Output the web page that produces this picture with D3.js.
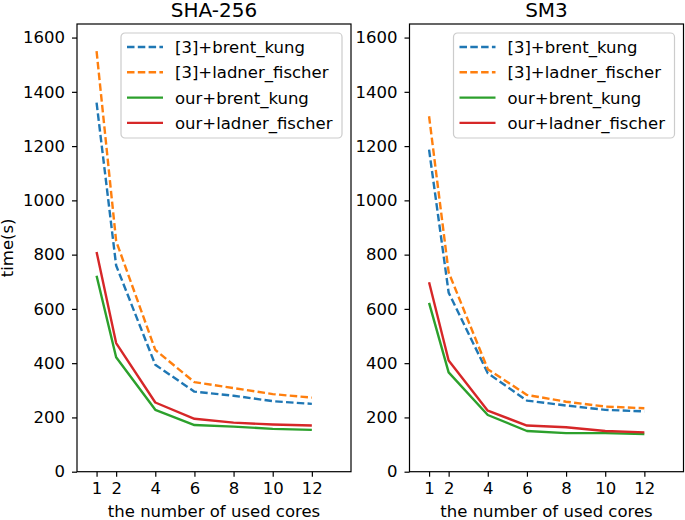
<!DOCTYPE html>
<html>
<head>
<meta charset="utf-8">
<script src="https://cdn.jsdelivr.net/npm/d3@7"></script>
<style>
  body { margin: 0; background: #fff; }
  svg { display: block; font-family: "DejaVu Sans", sans-serif; }
</style>
</head>
<body>
<div id="chart"></div>
<script>
// values
const cores = [1, 2, 4, 6, 8, 10, 12]
const xTicks = [1, 2, 4, 6, 8, 10, 12]
const yTicks = [0, 200, 400, 600, 800, 1000, 1200, 1400, 1600]
const seriesNames = ['[3]+brent_kung', '[3]+ladner_fischer', 'our+brent_kung', 'our+ladner_fischer']
const titles = ['SHA-256', 'SM3']

const shaBrent3 = [1360, 760, 394, 295, 280, 260, 250]
const shaLadner3 = [1550, 850, 449, 330, 308, 286, 273]
const shaBrentOur = [722, 422, 228, 172, 166, 158, 154]
const shaLadnerOur = [810, 474, 255, 195, 181, 174, 170]

const sm3Brent3 = [1187, 660, 363, 262, 244, 228, 222]
const sm3Ladner3 = [1310, 735, 378, 283, 258, 240, 234]
const sm3BrentOur = [622, 366, 209, 150, 142, 142, 139]
const sm3LadnerOur = [698, 410, 225, 170, 164, 150, 145]

const colors = ['#1f77b4', '#ff7f0e', '#2ca02c', '#d62728']
const dashed = [true, true, false, false]

const panels = [
    { title: titles[0], left: 77, series: [shaBrent3, shaLadner3, shaBrentOur, shaLadnerOur] },
    { title: titles[1], left: 409.5, series: [sm3Brent3, sm3Ladner3, sm3BrentOur, sm3LadnerOur] }
]

const width = 685
const height = 520
const plotW = 274
const plotTop = 24
const plotBottom = 471.7
const fontSize = '16.5px'

const svg = d3.select('#chart').append('svg')
    .attr('width', width)
    .attr('height', height)

const y = d3.scaleLinear().domain([0, 1650]).range([plotBottom, plotTop])

panels.forEach((p) => {
    const x = d3.scaleLinear().domain([0, 14]).range([p.left, p.left + plotW])
    const g = svg.append('g')

    // lines
    const line = d3.line()
        .x((d, i) => x(cores[i]))
        .y((d) => y(d))

    p.series.forEach((vals, k) => {
        g.append('path')
            .datum(vals)
            .attr('d', line)
            .attr('fill', 'none')
            .attr('stroke', colors[k])
            .attr('stroke-width', 2.4)
            .attr('stroke-dasharray', dashed[k] ? '7.5,3.3' : null)
            .attr('stroke-linejoin', 'round')
    })

    // frame
    g.append('rect')
        .attr('x', p.left)
        .attr('y', plotTop)
        .attr('width', plotW)
        .attr('height', plotBottom - plotTop)
        .attr('fill', 'none')
        .attr('stroke', '#000')
        .attr('stroke-width', 1.2)

    // axes
    const ax = g.append('g')
        .attr('transform', 'translate(0,' + plotBottom + ')')
        .call(d3.axisBottom(x).tickValues(xTicks).tickSize(5).tickPadding(6).tickFormat(d3.format('d')))
    const ay = g.append('g')
        .attr('transform', 'translate(' + p.left + ',0)')
        .call(d3.axisLeft(y).tickValues(yTicks).tickSize(5).tickPadding(7).tickFormat(d3.format('d')))
    ;[ax, ay].forEach((a) => {
        a.select('.domain').remove()
        a.selectAll('line').attr('stroke', '#000').attr('stroke-width', 1.2)
        a.selectAll('text').attr('fill', '#000').style('font-size', fontSize)
            .style('font-family', '"DejaVu Sans", sans-serif')
    })

    // title
    g.append('text')
        .attr('x', p.left + plotW / 2)
        .attr('y', 17)
        .attr('text-anchor', 'middle')
        .style('font-size', '20px')
        .text(p.title)

    // x label
    g.append('text')
        .attr('x', p.left + plotW / 2)
        .attr('y', 517)
        .attr('text-anchor', 'middle')
        .style('font-size', fontSize)
        .text('the number of used cores')

    // legend
    const lx = p.left + plotW - 9 - 221
    const ly = plotTop + 9
    const leg = g.append('g').attr('transform', 'translate(' + lx + ',' + ly + ')')
    leg.append('rect')
        .attr('width', 221)
        .attr('height', 105)
        .attr('rx', 4)
        .attr('fill', '#fff')
        .attr('fill-opacity', 0.8)
        .attr('stroke', '#cccccc')
        .attr('stroke-width', 1.2)
    seriesNames.forEach((name, k) => {
        const cy = 14 + k * 25.3
        leg.append('line')
            .attr('x1', 6)
            .attr('x2', 42)
            .attr('y1', cy)
            .attr('y2', cy)
            .attr('stroke', colors[k])
            .attr('stroke-width', 2.4)
            .attr('stroke-dasharray', dashed[k] ? '7.5,3.3' : null)
        leg.append('text')
            .attr('x', 54)
            .attr('y', cy + 6)
            .style('font-size', fontSize)
            .text(name)
    })
})

// y label (left panel only)
svg.append('text')
    .attr('transform', 'translate(13,' + ((plotTop + plotBottom) / 2) + ') rotate(-90)')
    .attr('text-anchor', 'middle')
    .style('font-size', fontSize)
    .text('time(s)')
</script>
</body>
</html>
